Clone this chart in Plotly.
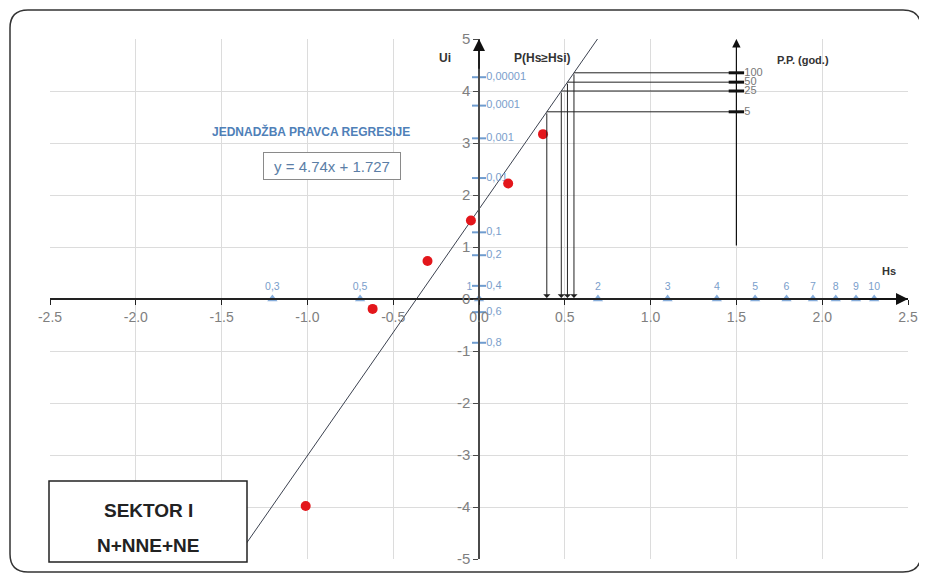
import plotly.graph_objects as go

# ---------------- data ----------------
obs_lnhs = [-1.01, -0.62, -0.30, -0.047, 0.17, 0.373]
obs_ui = [-3.98, -0.19, 0.73, 1.51, 2.22, 3.17]

reg_slope = 4.74
reg_intercept = 1.727

hs_labels = ["0,3", "0,5", "1", "2", "3", "4", "5", "6", "7", "8", "9", "10"]
hs_lnvals = [-1.204, -0.693, 0.0, 0.693, 1.099, 1.386, 1.609, 1.792, 1.946, 2.079, 2.197, 2.303]

p_labels = ["0,00001", "0,0001", "0,001", "0,01", "0,1", "0,2", "0,4", "0,6", "0,8"]
p_ui = [4.265, 3.719, 3.090, 2.326, 1.282, 0.842, 0.253, -0.253, -0.842]

rp_labels = ["5", "25", "50", "100"]
rp_ui = [3.60, 4.00, 4.17, 4.35]
rp_axis_x = 1.5

x_ticks = [-2.5, -2.0, -1.5, -1.0, -0.5, 0.0, 0.5, 1.0, 1.5, 2.0, 2.5]
y_ticks = [-5, -4, -3, -2, -1, 0, 1, 2, 3, 4, 5]

# ---------------- figure ----------------
OFF = 8  # page body margin in the browser
W, H = 927 - OFF, 577 - OFF
ML, MR, MT, MB = 50 - OFF, W - (908 - OFF), 39 - OFF, H - (559 - OFF)
PW, PH = W - ML - MR, H - MT - MB

def px_x(p):
    return (p - OFF - ML) / PW

def px_y(p):
    return (H - MB - (p - OFF)) / PH

BLUE_TXT = "#7a9ecb"

fig = go.Figure()

# regression line
y_lo, y_hi = -5, 5
fig.add_trace(go.Scatter(
    x=[(y_lo - reg_intercept) / reg_slope, (y_hi - reg_intercept) / reg_slope],
    y=[y_lo, y_hi], mode="lines",
    line=dict(color="#3c4250", width=1), hoverinfo="skip", showlegend=False))

# return period lines (horizontal to P.P. axis, vertical down to Hs axis)
for u in rp_ui:
    xi = (u - reg_intercept) / reg_slope
    fig.add_trace(go.Scatter(x=[xi, rp_axis_x], y=[u, u], mode="lines",
                             line=dict(color="#222", width=1), showlegend=False, hoverinfo="skip"))
    fig.add_annotation(x=xi, y=0.02, ax=xi, ay=u, xref="x", yref="y", axref="x", ayref="y",
                       text="", showarrow=True, arrowhead=1, arrowsize=1.2, arrowwidth=1,
                       arrowcolor="#222")

# P.P. axis tick marks and labels
fig.add_trace(go.Scatter(
    x=[rp_axis_x] * len(rp_ui), y=rp_ui, mode="markers+text",
    marker=dict(symbol="line-ew", size=11, line=dict(color="#111", width=3)),
    text=rp_labels, textposition="middle right",
    textfont=dict(size=11, color="#777"), showlegend=False, hoverinfo="skip", cliponaxis=False))

# P.P. vertical arrow
fig.add_annotation(x=rp_axis_x, y=5, ax=rp_axis_x, ay=1, xref="x", yref="y", axref="x", ayref="y",
                   text="", showarrow=True, arrowhead=2, arrowsize=1.4, arrowwidth=1.2,
                   arrowcolor="#111")

# Hs triangles on the x axis
fig.add_trace(go.Scatter(
    x=hs_lnvals, y=[0] * len(hs_lnvals), mode="markers+text",
    marker=dict(symbol="triangle-up", size=9, color="#86addb"),
    text=hs_labels,
    textposition=["top center", "top center", "top left"] + ["top center"] * 9,
    textfont=dict(size=10.5, color=BLUE_TXT), showlegend=False, hoverinfo="skip", cliponaxis=False))

# probability ticks on the Ui axis
fig.add_trace(go.Scatter(
    x=[0] * len(p_ui), y=p_ui, mode="markers+text",
    marker=dict(symbol="line-ew", size=10, line=dict(color="#6f9ccf", width=2)),
    text=p_labels, textposition="middle right",
    textfont=dict(size=11, color=BLUE_TXT), showlegend=False, hoverinfo="skip", cliponaxis=False))

# observations
fig.add_trace(go.Scatter(
    x=obs_lnhs, y=obs_ui, mode="markers",
    marker=dict(color="#e3161b", size=10), showlegend=False))

# axis arrows
fig.add_annotation(x=0, y=5, ax=0, ay=4.4, xref="x", yref="y", axref="x", ayref="y",
                   text="", showarrow=True, arrowhead=2, arrowsize=1.6, arrowwidth=1.5,
                   arrowcolor="#111")
fig.add_annotation(x=2.5, y=0, ax=2.2, ay=0, xref="x", yref="y", axref="x", ayref="y",
                   text="", showarrow=True, arrowhead=2, arrowsize=1.6, arrowwidth=1.5,
                   arrowcolor="#111")

def label(px, py, text, size, color, family=None, **kw):
    font = dict(size=size, color=color)
    if family:
        font["family"] = family
    fig.add_annotation(x=px_x(px), y=px_y(py), xref="paper", yref="paper", text=text,
                       showarrow=False, xanchor="center", yanchor="middle", font=font, **kw)

label(445, 58, "<b>Ui</b>", 12, "#333")
label(542, 58, "<b>P(Hs≥Hsi)</b>", 12, "#333")
label(889, 271, "<b>Hs</b>", 11, "#333")
label(803, 60, "<b>P.P. (god.)</b>", 11, "#333")
label(311, 131, "<b>JEDNADŽBA PRAVCA REGRESIJE</b>", 12, "#4f80b8")
label(332, 166, "y = 4.74x + 1.727", 15, "#5b7ea6",
      bgcolor="white", bordercolor="#8a8a8a", borderwidth=1, width=134, height=24)

# SEKTOR box
fig.add_shape(type="rect", xref="paper", yref="paper",
              x0=px_x(49), x1=px_x(247), y0=px_y(562), y1=px_y(481),
              fillcolor="white", line=dict(color="#222", width=1.5), layer="above")
label(148, 510, "<b>SEKTOR I</b>", 19, "#222", family="Arial, Liberation Sans")
label(148, 545, "<b>N+NNE+NE</b>", 19, "#222", family="Arial, Liberation Sans")

# outer rounded border
x0, x1 = px_x(10), px_x(921)
y0, y1 = px_y(572), px_y(10)
rx, ry = 18 / PW, 18 / PH
path = (f"M {x0+rx},{y1} L {x1-rx},{y1} Q {x1},{y1} {x1},{y1-ry} "
        f"L {x1},{y0+ry} Q {x1},{y0} {x1-rx},{y0} "
        f"L {x0+rx},{y0} Q {x0},{y0} {x0},{y0+ry} "
        f"L {x0},{y1-ry} Q {x0},{y1} {x0+rx},{y1} Z")
fig.add_shape(type="path", path=path, xref="paper", yref="paper",
              line=dict(color="#333", width=1.5), layer="above")

fig.update_layout(
    width=W, height=H,
    margin=dict(l=ML, r=MR, t=MT, b=MB, autoexpand=False),
    paper_bgcolor="white", plot_bgcolor="white",
    font=dict(family="Liberation Sans, Arial", color="#595959"),
    showlegend=False,
    xaxis=dict(range=[-2.5, 2.5], tickvals=x_ticks, ticktext=[f"{v:.1f}" for v in x_ticks],
               showgrid=True, gridcolor="#dcdcdc", gridwidth=1, zeroline=False,
               anchor="free", position=0.5, showline=True, linecolor="#222", linewidth=1.5,
               ticks="outside", ticklen=5, tickcolor="#222", automargin=False,
               tickfont=dict(size=14, color="#7f7f7f")),
    yaxis=dict(range=[-5, 5], tickvals=y_ticks, ticktext=[str(v) for v in y_ticks],
               showgrid=True, gridcolor="#dcdcdc", gridwidth=1,
               zeroline=False, anchor="free", position=0.5, showline=True, linecolor="#4a4a4a",
               linewidth=1.5, ticks="outside", ticklen=5, tickcolor="#4a4a4a", automargin=False,
               tickfont=dict(size=15, color="#7f7f7f")),
)

fig.write_html("out.html")
